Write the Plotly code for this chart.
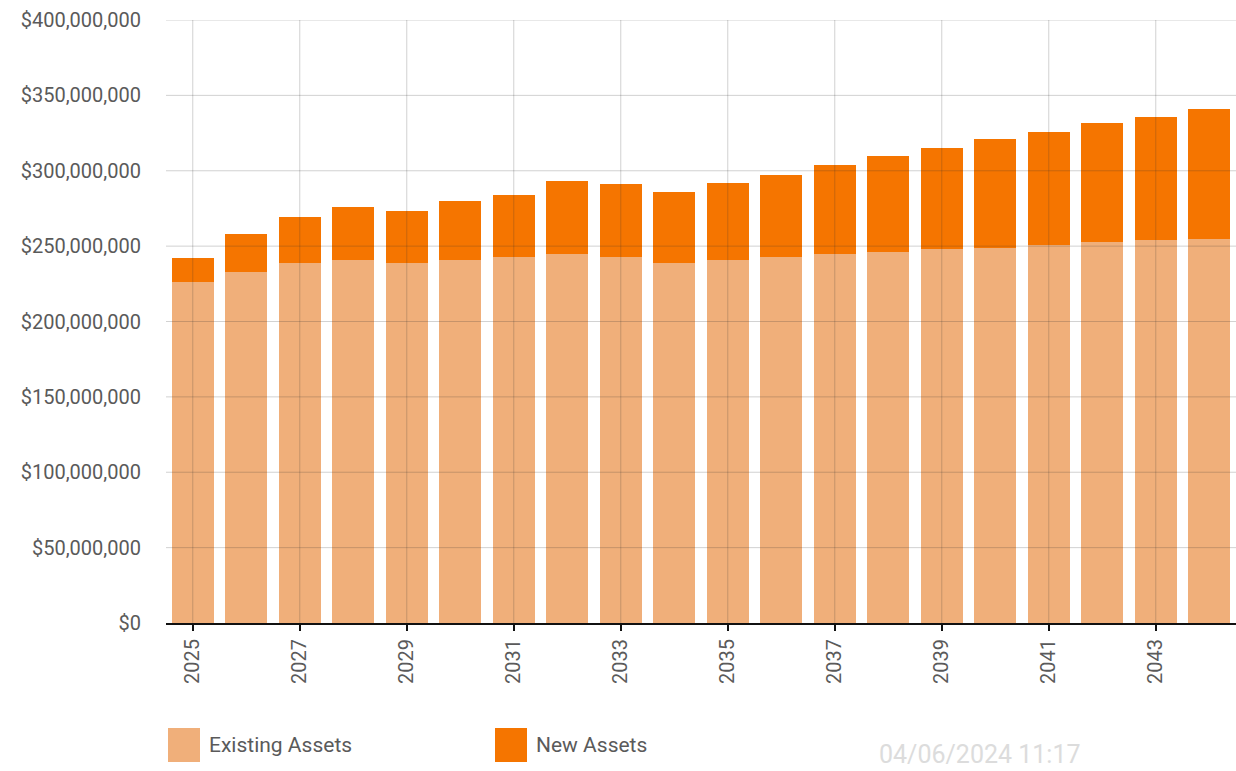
import plotly.graph_objects as go

years = list(range(2025, 2045))
existing = [226, 233, 239, 241, 239, 241, 243, 245, 243, 239,
            241, 243, 245, 246, 248, 249, 251, 252.6, 254, 255]
new = [16, 25, 30, 35, 34, 39, 41, 48, 48, 47,
       51, 54, 59, 64, 67, 72, 75, 79, 81.5, 86]
existing = [v * 1e6 for v in existing]
new = [v * 1e6 for v in new]

x_ticks = [2025, 2027, 2029, 2031, 2033, 2035, 2037, 2039, 2041, 2043]
y_ticks = [0, 50e6, 100e6, 150e6, 200e6, 250e6, 300e6, 350e6, 400e6]
y_tick_text = ["$" + format(int(v), ",") for v in y_ticks]

C_EXIST = "#F0AF7A"
C_NEW = "#F57500"
FONT = "Roboto"
TXT = "#5a5a5a"

fig = go.Figure()
fig.add_trace(go.Bar(x=years, y=existing, name="Existing Assets",
                     marker=dict(color=C_EXIST, line=dict(width=0)), showlegend=False))
fig.add_trace(go.Bar(x=years, y=new, name="New Assets",
                     marker=dict(color=C_NEW, line=dict(width=0)), showlegend=False))

grid_col = "rgba(50,50,50,0.22)"
shapes = []
for t in x_ticks:
    shapes.append(dict(type="line", xref="x", yref="paper", x0=t, x1=t, y0=0, y1=1,
                       line=dict(color=grid_col, width=1), layer="above"))
for v in y_ticks[1:]:
    shapes.append(dict(type="line", xref="paper", yref="y", x0=0, x1=1, y0=v, y1=v,
                       line=dict(color=grid_col, width=1), layer="above"))

# manual legend swatches
legend_items = [("Existing Assets", C_EXIST, 168), ("New Assets", C_NEW, 495)]
annotations = []
for label, col, px in legend_items:
    x0 = (px - 166) / 1070
    x1 = (px + 32 - 166) / 1070
    shapes.append(dict(type="rect", xref="paper", yref="paper",
                       x0=x0, x1=x1, y0=(623 - 762) / 603, y1=(623 - 728) / 603,
                       fillcolor=col, line=dict(width=0)))
    annotations.append(dict(xref="paper", yref="paper", x=(px + 39 - 166) / 1070,
                            y=(623 - 745) / 603, text=label, showarrow=False,
                            xanchor="left", yanchor="middle",
                            font=dict(family=FONT, size=21, color=TXT)))

annotations.append(dict(xref="paper", yref="paper", x=(877 - 166) / 1070,
                        y=(623 - 755) / 603, text="04/06/2024 11:17", showarrow=False,
                        xanchor="left", yanchor="middle",
                        font=dict(family=FONT, size=25, color="#DCDCDC")))

fig.update_layout(
    barmode="stack",
    bargap=0.21,
    width=1236, height=771,
    margin=dict(l=166, r=0, t=20, b=148),
    plot_bgcolor="white", paper_bgcolor="white",
    font=dict(family=FONT, color=TXT),
    shapes=shapes,
    annotations=annotations,
    xaxis=dict(range=[2024.5, 2044.5], tickmode="array", tickvals=x_ticks,
               ticktext=[str(t) for t in x_ticks], tickangle=-90,
               showgrid=False, showline=True, linecolor="#111111", linewidth=2,
               ticks="outside", ticklen=6, tickcolor="#111111", tickwidth=2,
               tickfont=dict(family=FONT, size=20, color=TXT), zeroline=False),
    yaxis=dict(range=[0, 400e6], tickmode="array", tickvals=y_ticks,
               ticktext=y_tick_text, showgrid=False, zeroline=False,
               ticks="", ticklabelstandoff=24,
               tickfont=dict(family=FONT, size=20, color=TXT)),
)

fig.write_html("out.html")
